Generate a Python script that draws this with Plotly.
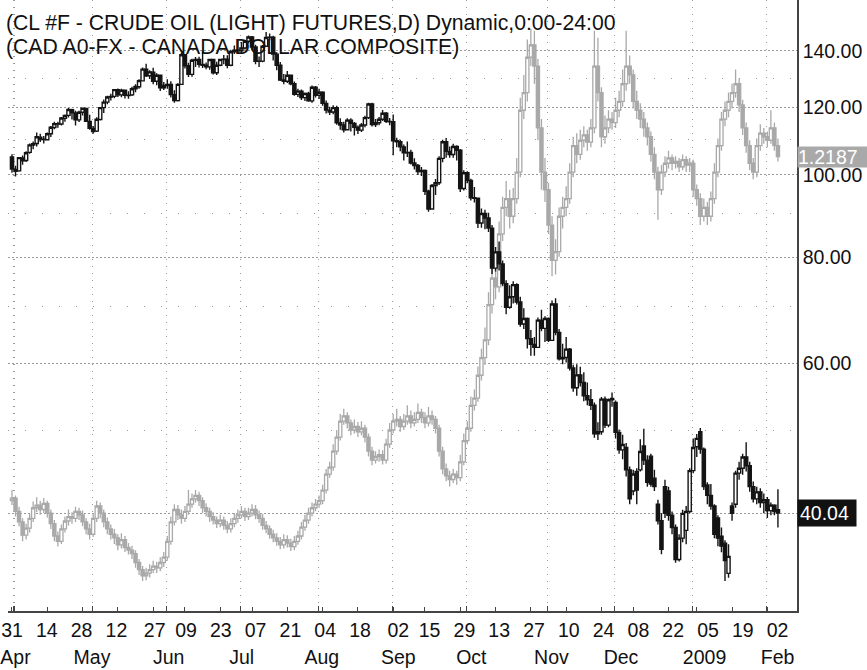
import math
import pandas as pd
import plotly.graph_objects as go

# ---------------- dates ----------------
holidays = ["2008-05-26", "2008-07-04", "2008-09-01", "2008-11-27", "2008-12-25", "2009-01-01"]
weekdays = [d.strftime("%Y-%m-%d") for d in pd.bdate_range("2008-03-31", "2009-02-05")]
dates = [d for d in weekdays if d not in holidays]   # trading days (one candle each)

# ---------------- crude oil (CL #F) ----------------
oil_open = [105.0,
 101.5,101.1,104.7,104.0,106.3,108.4,108.9,110.8,110.2,110.0,111.8,113.7,114.8,114.8,116.6,117.5,119.3,118.3,116.1,118.5,119.7,115.6,
 113.4,112.6,116.2,120.0,121.8,123.5,123.7,126.0,124.2,125.8,124.0,124.2,126.3,127.0,129.0,133.2,130.8,132.1,128.9,131.0,126.6,
 127.4,127.8,124.3,122.3,127.8,138.5,134.4,131.3,136.4,136.7,134.9,134.6,134.0,136.7,131.9,134.6,136.7,136.8,134.6,139.6,140.2,
 140.0,141.0,143.6,145.3,141.4,136.0,136.1,141.7,145.1,145.2,138.7,134.6,129.3,128.9,131.0,128.0,124.4,125.5,123.3,124.7,122.2,126.8,
 124.1,125.1,121.4,119.2,118.6,120.0,115.2,114.5,113.0,116.0,115.0,113.8,112.9,114.5,116.8,121.2,114.6,115.2,116.3,118.2,115.6,
 115.5,109.7,109.4,107.9,106.2,106.3,103.3,102.6,100.9,101.2,95.7,91.2,97.2,97.9,104.6,109.4,106.6,105.7,108.0,106.9,96.4,
 100.6,98.5,94.0,93.9,87.8,90.1,89.0,86.6,77.7,81.2,78.6,74.5,69.9,71.9,74.3,70.9,66.8,67.8,64.2,63.2,62.7,67.5,66.0,
 67.8,63.9,70.5,65.3,60.8,61.0,62.4,59.3,56.2,58.2,57.0,55.0,54.4,53.6,49.6,49.9,54.5,50.8,54.6,
 54.0,49.8,47.5,47.8,45.0,42.5,44.8,45.0,48.0,46.2,46.7,44.0,41.0,39.2,43.0,42.5,39.8,38.5,35.3,37.4,38.2,40.2,
 44.9,47.9,49.9,47.6,43.2,42.0,40.8,39.5,37.6,36.9,34.0,40.8,41.0,44.6,45.2,46.6,45.5,43.0,41.6,42.4,41.2,
 41.5,40.3,40.9,40.4]
oil_high = [105.8,
 102.5,105.0,105.4,106.6,108.9,109.5,112.2,111.8,111.1,112.2,114.2,115.5,115.5,117.0,117.8,119.9,119.6,119.0,119.0,120.0,119.8,117.7,
 114.2,116.9,120.2,122.7,123.9,124.6,126.2,126.4,126.3,126.0,125.4,127.0,127.8,129.6,133.8,135.1,132.8,133.7,131.7,131.2,128.6,
 129.6,128.9,125.8,128.2,139.1,138.8,135.5,137.0,137.6,137.7,139.9,135.6,137.0,136.8,135.9,137.0,138.4,138.3,140.4,142.0,143.7,
 143.3,144.0,145.9,145.7,142.3,137.8,142.2,147.3,146.7,145.8,139.0,135.8,131.4,132.5,131.3,128.8,126.3,126.0,125.0,125.3,127.4,127.2,
 126.3,125.4,122.3,120.3,120.8,120.6,116.6,115.5,116.6,116.6,115.4,114.3,115.1,117.4,121.6,121.6,116.4,117.0,119.2,118.6,116.7,
 117.8,110.6,110.0,108.6,109.5,107.1,104.6,103.0,102.2,101.5,96.1,97.6,98.9,105.2,110.0,110.5,108.0,108.8,108.4,107.3,101.3,
 101.0,99.0,96.8,94.0,91.3,91.0,90.3,87.3,82.3,83.5,79.3,75.2,74.2,75.0,74.6,71.9,69.7,68.0,65.7,64.5,68.0,69.4,68.2,
 68.0,71.2,71.6,65.9,63.3,64.5,62.6,59.8,59.9,59.5,58.6,57.0,56.0,54.0,51.2,54.8,54.9,54.6,55.5,
 54.3,50.2,49.5,48.4,45.4,45.0,45.2,48.9,50.3,46.8,47.0,45.0,41.5,40.0,43.8,43.0,40.2,38.8,37.8,40.4,40.8,45.2,
 49.0,49.6,50.4,47.8,43.5,43.3,41.0,39.8,38.5,37.2,36.8,41.2,44.9,46.0,47.0,48.5,46.0,43.6,43.0,42.8,42.2,
 41.8,41.2,41.0,42.7]
oil_low = [100.6,
 99.6,100.9,102.8,103.6,105.9,107.2,108.0,109.3,108.9,109.8,110.8,113.2,113.6,114.3,115.5,116.8,116.2,114.3,115.4,117.5,115.5,113.0,
 111.8,112.3,115.9,118.3,121.1,122.3,123.1,123.5,123.4,123.0,122.9,123.8,125.1,126.3,128.8,130.4,129.7,127.8,127.5,125.5,125.9,
 126.3,123.3,121.6,122.0,127.6,133.4,130.4,130.5,134.0,133.8,133.6,133.1,133.0,131.3,131.1,134.2,135.0,133.5,134.2,138.8,139.4,
 139.1,140.5,142.8,140.5,135.0,134.0,135.7,141.5,144.0,136.3,132.8,129.0,127.8,128.3,127.5,123.9,123.5,122.5,122.2,121.9,121.6,123.3,
 122.8,120.6,118.1,117.6,117.9,114.6,113.0,112.2,112.9,112.5,111.3,111.7,112.3,113.8,116.4,114.0,113.9,114.4,115.7,115.1,114.4,
 105.5,107.8,106.6,104.0,105.0,102.9,101.5,100.0,99.7,94.7,90.5,91.0,94.7,97.3,103.5,104.8,104.8,104.8,104.0,95.5,95.9,
 97.8,93.3,92.8,86.6,86.7,86.3,85.7,76.5,77.0,77.2,74.0,68.6,69.6,70.6,70.4,66.3,65.9,62.5,61.3,61.3,62.6,65.5,63.6,
 63.6,63.8,64.8,60.5,59.9,60.2,58.9,55.6,55.0,56.4,54.2,53.6,52.9,49.1,48.8,49.5,50.4,50.5,53.4,
 49.0,47.0,46.3,44.2,41.0,42.0,41.0,44.8,45.6,43.0,43.0,42.5,38.8,35.8,39.5,39.2,37.8,35.0,35.1,37.0,36.8,40.0,
 44.6,46.6,47.0,42.6,41.0,40.4,37.4,36.6,36.0,33.3,33.6,39.2,40.6,43.8,44.4,44.8,42.4,41.2,41.0,40.6,40.0,
 39.5,39.8,39.8,38.5]
oil_close = [101.6,
 101.0,104.8,103.9,106.2,108.5,108.8,110.9,110.1,110.1,111.8,113.8,114.9,114.9,116.7,117.5,119.4,118.3,116.1,118.5,119.8,115.6,113.5,
 112.5,116.3,120.0,121.8,123.5,123.7,126.0,124.2,125.8,124.1,124.1,126.3,127.1,129.1,133.2,130.8,132.2,128.9,131.0,126.6,127.4,
 127.8,124.3,122.3,127.8,138.5,134.4,131.3,136.4,136.7,134.9,134.6,134.0,136.7,131.9,134.6,136.7,136.8,134.6,139.6,140.2,140.0,
 141.0,143.6,145.3,141.4,136.0,136.1,141.7,145.1,145.2,138.7,134.6,129.3,128.9,131.0,128.0,124.4,125.5,123.3,124.7,122.2,126.8,124.1,
 125.1,121.4,119.2,118.6,120.0,115.2,114.5,113.0,116.0,115.0,113.8,112.9,114.5,116.8,121.2,114.6,115.2,116.3,118.2,115.6,115.5,
 109.7,109.4,107.9,106.2,106.3,103.3,102.6,100.9,101.2,95.7,91.2,97.2,97.9,104.6,109.4,106.6,105.7,108.0,106.9,96.4,100.6,
 98.5,94.0,93.9,87.8,90.1,89.0,86.6,77.7,81.2,78.6,74.5,69.9,71.9,74.3,70.9,66.8,67.8,64.2,63.2,62.7,67.5,66.0,67.8,
 63.9,70.5,65.3,60.8,61.0,62.4,59.3,56.2,58.2,57.0,55.0,54.4,53.6,49.6,49.9,54.5,50.8,54.4,54.4,
 49.8,47.5,48.2,45.0,41.6,44.5,42.6,47.3,46.2,43.5,43.3,43.0,39.2,36.3,40.0,39.8,38.5,35.3,37.4,40.0,40.2,44.9,
 47.8,49.0,47.6,43.0,42.0,40.8,37.8,37.4,36.6,35.2,35.6,40.0,44.6,45.2,46.6,45.5,43.0,41.6,42.4,41.2,41.5,
 40.3,40.9,40.2,40.04]

# ---------------- Canadian dollar (CAD A0-FX) ----------------
cad_open = [1.0240,
 1.0255,1.0180,1.0120,1.0045,1.0085,1.0140,1.0200,1.0215,1.0190,1.0225,1.0170,1.0110,1.0040,1.0010,1.0080,1.0125,1.0150,1.0140,1.0180,1.0160,1.0120,1.0080,
 1.0050,1.0140,1.0210,1.0170,1.0120,1.0080,1.0050,1.0030,0.9990,1.0020,0.9975,0.9960,0.9940,0.9890,0.9850,0.9815,0.9830,0.9850,0.9870,0.9860,0.9890,
 0.9920,1.0010,1.0120,1.0190,1.0160,1.0140,1.0180,1.0220,1.0250,1.0270,1.0240,1.0200,1.0180,1.0150,1.0130,1.0110,1.0130,1.0100,1.0080,1.0110,1.0140,
 1.0160,1.0180,1.0150,1.0170,1.0190,1.0160,1.0140,1.0100,1.0080,1.0050,1.0030,1.0010,0.9990,1.0020,1.0000,0.9980,1.0010,1.0040,1.0090,1.0130,1.0170,1.0200,
 1.0220,1.0240,1.0300,1.0390,1.0430,1.0520,1.0600,1.0690,1.0720,1.0680,1.0640,1.0660,1.0630,1.0650,1.0600,1.0520,1.0470,1.0490,1.0500,1.0470,1.0560,
 1.0640,1.0690,1.0700,1.0660,1.0690,1.0720,1.0680,1.0700,1.0740,1.0710,1.0680,1.0720,1.0700,1.0650,1.0520,1.0420,1.0380,1.0360,1.0390,1.0370,1.0460,
 1.0580,1.0650,1.0780,1.0820,1.0950,1.1050,1.1150,1.1350,1.1500,1.1450,1.1750,1.1900,1.1950,1.1850,1.1950,1.2100,1.2450,1.2550,1.2750,1.2820,1.2700,1.2350,1.2100,
 1.2000,1.1800,1.1600,1.1650,1.1850,1.1900,1.1950,1.2100,1.2250,1.2200,1.2280,1.2310,1.2270,1.2350,1.2700,1.2550,1.2300,1.2350,1.2400,
 1.2380,1.2450,1.2500,1.2600,1.2700,1.2650,1.2500,1.2450,1.2400,1.2350,1.2300,1.2200,1.2100,1.2000,1.2100,1.2150,1.2180,1.2150,1.2160,1.2130,1.2170,1.2140,
 1.2150,1.2000,1.1950,1.1850,1.1900,1.1850,1.1950,1.2100,1.2250,1.2400,1.2450,1.2500,1.2550,1.2600,1.2480,1.2350,1.2250,1.2150,1.2100,1.2250,1.2320,
 1.2300,1.2280,1.2350,1.2250]
cad_high = [1.0300,
 1.0270,1.0205,1.0140,1.0110,1.0165,1.0235,1.0260,1.0240,1.0255,1.0240,1.0190,1.0130,1.0065,1.0105,1.0150,1.0190,1.0175,1.0205,1.0200,1.0185,1.0140,1.0110,
 1.0170,1.0240,1.0230,1.0190,1.0145,1.0105,1.0080,1.0050,1.0055,1.0040,1.0000,0.9985,0.9960,0.9910,0.9870,0.9860,0.9880,0.9900,0.9895,0.9920,0.9950,
 1.0040,1.0150,1.0220,1.0215,1.0190,1.0210,1.0300,1.0280,1.0300,1.0290,1.0260,1.0225,1.0200,1.0175,1.0150,1.0160,1.0150,1.0125,1.0140,1.0170,1.0190,
 1.0210,1.0200,1.0200,1.0220,1.0215,1.0185,1.0165,1.0125,1.0100,1.0075,1.0055,1.0035,1.0050,1.0045,1.0025,1.0040,1.0070,1.0120,1.0160,1.0200,1.0230,1.0250,
 1.0270,1.0330,1.0420,1.0460,1.0560,1.0640,1.0730,1.0760,1.0740,1.0700,1.0700,1.0685,1.0690,1.0670,1.0620,1.0545,1.0520,1.0530,1.0525,1.0590,1.0680,
 1.0730,1.0760,1.0720,1.0730,1.0780,1.0750,1.0740,1.0790,1.0760,1.0740,1.0770,1.0750,1.0720,1.0670,1.0545,1.0450,1.0410,1.0420,1.0410,1.0500,1.0620,
 1.0690,1.0830,1.0870,1.1000,1.1100,1.1220,1.1420,1.1600,1.1560,1.1820,1.1960,1.2050,1.2000,1.2010,1.2180,1.2520,1.2650,1.2850,1.2910,1.2900,1.2740,1.2400,1.2180,
 1.2040,1.1850,1.1720,1.1900,1.1960,1.2020,1.2150,1.2300,1.2320,1.2340,1.2360,1.2340,1.2400,1.2900,1.2860,1.2580,1.2420,1.2450,1.2440,
 1.2520,1.2560,1.2680,1.2900,1.2760,1.2680,1.2560,1.2490,1.2440,1.2380,1.2330,1.2240,1.2130,1.2140,1.2190,1.2220,1.2200,1.2190,1.2180,1.2200,1.2190,1.2180,
 1.2170,1.2030,1.1980,1.1950,1.1930,1.1990,1.2150,1.2290,1.2440,1.2500,1.2550,1.2600,1.2680,1.2630,1.2510,1.2380,1.2280,1.2180,1.2290,1.2370,1.2350,
 1.2330,1.2450,1.2380,1.2290]
cad_low = [1.0215,
 1.0150,1.0095,1.0010,1.0020,1.0060,1.0120,1.0175,1.0160,1.0170,1.0145,1.0080,1.0010,0.9980,0.9995,1.0060,1.0100,1.0110,1.0120,1.0130,1.0095,1.0050,1.0020,
 1.0035,1.0120,1.0140,1.0090,1.0050,1.0020,0.9995,0.9960,0.9970,0.9950,0.9935,0.9910,0.9860,0.9820,0.9785,0.9790,0.9805,0.9830,0.9830,0.9840,0.9865,
 0.9900,0.9990,1.0100,1.0130,1.0110,1.0120,1.0160,1.0200,1.0230,1.0210,1.0170,1.0150,1.0120,1.0105,1.0085,1.0090,1.0075,1.0055,1.0060,1.0090,1.0115,
 1.0140,1.0125,1.0130,1.0150,1.0135,1.0115,1.0075,1.0055,1.0025,1.0005,0.9985,0.9965,0.9970,0.9975,0.9955,0.9960,0.9990,1.0020,1.0070,1.0110,1.0150,1.0180,
 1.0200,1.0220,1.0280,1.0370,1.0410,1.0500,1.0580,1.0670,1.0650,1.0610,1.0620,1.0600,1.0610,1.0570,1.0490,1.0440,1.0450,1.0460,1.0445,1.0450,1.0540,
 1.0620,1.0660,1.0630,1.0640,1.0670,1.0650,1.0660,1.0680,1.0680,1.0650,1.0660,1.0670,1.0620,1.0490,1.0390,1.0350,1.0320,1.0340,1.0330,1.0350,1.0440,
 1.0560,1.0630,1.0750,1.0800,1.0920,1.1010,1.1120,1.1300,1.1380,1.1420,1.1710,1.1850,1.1780,1.1810,1.1920,1.2070,1.2400,1.2500,1.2700,1.2600,1.2280,1.2000,1.1930,
 1.1750,1.1510,1.1520,1.1620,1.1780,1.1850,1.1920,1.2070,1.2150,1.2170,1.2240,1.2220,1.2240,1.2320,1.2500,1.2240,1.2260,1.2320,1.2340,
 1.2350,1.2410,1.2470,1.2560,1.2600,1.2460,1.2400,1.2350,1.2300,1.2250,1.2160,1.2060,1.1830,1.1970,1.2070,1.2120,1.2110,1.2120,1.2100,1.2110,1.2100,1.2100,
 1.1960,1.1910,1.1800,1.1820,1.1800,1.1820,1.1920,1.2070,1.2220,1.2360,1.2410,1.2460,1.2520,1.2440,1.2310,1.2210,1.2110,1.2060,1.2070,1.2220,1.2260,
 1.2240,1.2260,1.2220,1.2160]
cad_close = [1.0255,
 1.0180,1.0120,1.0045,1.0085,1.0140,1.0200,1.0215,1.0190,1.0225,1.0170,1.0110,1.0040,1.0010,1.0080,1.0125,1.0150,1.0140,1.0180,1.0160,1.0120,1.0080,1.0050,
 1.0140,1.0210,1.0170,1.0120,1.0080,1.0050,1.0030,0.9990,1.0020,0.9975,0.9960,0.9940,0.9890,0.9850,0.9815,0.9830,0.9850,0.9870,0.9860,0.9890,0.9920,
 1.0010,1.0120,1.0190,1.0160,1.0140,1.0180,1.0220,1.0250,1.0270,1.0240,1.0200,1.0180,1.0150,1.0130,1.0110,1.0130,1.0100,1.0080,1.0110,1.0140,1.0160,
 1.0180,1.0150,1.0170,1.0190,1.0160,1.0140,1.0100,1.0080,1.0050,1.0030,1.0010,0.9990,1.0020,1.0000,0.9980,1.0010,1.0040,1.0090,1.0130,1.0170,1.0200,1.0220,
 1.0240,1.0300,1.0390,1.0430,1.0520,1.0600,1.0690,1.0720,1.0680,1.0640,1.0660,1.0630,1.0650,1.0600,1.0520,1.0470,1.0490,1.0500,1.0470,1.0560,1.0640,
 1.0690,1.0700,1.0660,1.0690,1.0720,1.0680,1.0700,1.0740,1.0710,1.0680,1.0720,1.0700,1.0650,1.0520,1.0420,1.0380,1.0360,1.0390,1.0370,1.0460,1.0580,
 1.0650,1.0780,1.0820,1.0950,1.1050,1.1150,1.1350,1.1500,1.1450,1.1750,1.1900,1.1950,1.1850,1.1950,1.2100,1.2450,1.2550,1.2750,1.2820,1.2700,1.2350,1.2100,1.2000,
 1.1800,1.1600,1.1650,1.1850,1.1900,1.1950,1.2100,1.2250,1.2200,1.2280,1.2310,1.2270,1.2350,1.2700,1.2550,1.2300,1.2350,1.2400,1.2380,
 1.2450,1.2500,1.2600,1.2700,1.2650,1.2500,1.2450,1.2400,1.2350,1.2300,1.2200,1.2100,1.2000,1.2100,1.2150,1.2180,1.2150,1.2160,1.2130,1.2170,1.2140,1.2150,
 1.2000,1.1950,1.1850,1.1900,1.1850,1.1950,1.2100,1.2250,1.2400,1.2450,1.2500,1.2550,1.2600,1.2480,1.2350,1.2250,1.2150,1.2100,1.2250,1.2320,1.2300,
 1.2280,1.2350,1.2250,1.2187]

for arr in (oil_open, oil_high, oil_low, oil_close, cad_open, cad_high, cad_low, cad_close):
    assert len(arr) == len(dates), (len(arr), len(dates))

# ---------------- axis labels ----------------
label_dates = ["2008-03-31", "2008-04-14", "2008-04-28", "2008-05-12", "2008-05-27", "2008-06-09",
               "2008-06-23", "2008-07-07", "2008-07-21", "2008-08-04", "2008-08-18", "2008-09-02",
               "2008-09-15", "2008-09-29", "2008-10-13", "2008-10-27", "2008-11-10", "2008-11-24",
               "2008-12-08", "2008-12-22", "2009-01-05", "2009-01-19", "2009-02-02"]
day_labels = ["31", "14", "28", "12", "27", "09", "23", "07", "21", "04", "18", "02",
              "15", "29", "13", "27", "10", "24", "08", "22", "05", "19", "02"]
month_labels = ["Apr", "May", "Jun", "Jul", "Aug", "Sep", "Oct", "Nov", "Dec", "2009", "Feb"]
price_ticks = [40, 60, 80, 100, 120, 140]
price_minor = [50, 70, 90, 110, 130]

pos = list(range(len(dates)))                      # candle slots (trading days)
bar_ticks = [dates.index(d) for d in label_dates]  # small tick marks on the bar axis
month_first = [i for i in range(1, len(dates)) if dates[i][5:7] != dates[i - 1][5:7]]
month_grid = [0.4] + [i - 0.3 for i in month_first]
# calendar (weekday) axis used for the text labels
day_lab_pos = [weekdays.index(d) for d in label_dates]
month_lab_pos = [weekdays.index(dates[i]) for i in [1] + month_first[1:]]
# the 40.00 label sits under the last-price tag in the original, so it is left blank
price_text = ["" if v == 40 else "%.2f" % v for v in price_ticks]

FONT = "Liberation Sans, Arial, Helvetica, sans-serif"
GRAY = "#a9a9a9"
BLACK = "#141414"
AX = "#444444"

fig = go.Figure()
fig.add_trace(go.Candlestick(
    x=pos, open=cad_open, high=cad_high, low=cad_low, close=cad_close,
    xaxis="x", yaxis="y", name="CAD",
    increasing=dict(line=dict(color=GRAY, width=1.3), fillcolor="white"),
    decreasing=dict(line=dict(color=GRAY, width=1.3), fillcolor=GRAY),
    whiskerwidth=0, showlegend=False, hoverinfo="skip"))
fig.add_trace(go.Candlestick(
    x=pos, open=oil_open, high=oil_high, low=oil_low, close=oil_close,
    xaxis="x", yaxis="y2", name="CL",
    increasing=dict(line=dict(color=BLACK, width=1.4), fillcolor="white"),
    decreasing=dict(line=dict(color=BLACK, width=1.4), fillcolor=BLACK),
    whiskerwidth=0, showlegend=False, hoverinfo="skip"))
# empty traces so that the two label axes get drawn
for xa in ("x2", "x3"):
    fig.add_trace(go.Scatter(x=[None], y=[None], xaxis=xa, yaxis="y", mode="markers",
                             showlegend=False, hoverinfo="skip"))

PLOT_H = 611
fig.update_layout(
    width=867, height=670,
    margin=dict(l=8, r=70, t=0, b=670 - PLOT_H),
    paper_bgcolor="white", plot_bgcolor="white",
    font=dict(family=FONT, color="#111"),
    boxgap=0.1, boxgroupgap=0,
    xaxis=dict(
        range=[-1.13, 222.4], rangeslider=dict(visible=False),
        showline=True, linecolor=AX, linewidth=1.5,
        tickmode="array", tickvals=bar_ticks, showticklabels=False,
        ticks="inside", ticklen=4, tickcolor=AX,
        showgrid=False, zeroline=False,
        minor=dict(tickmode="array", tickvals=month_grid, showgrid=True,
                   gridcolor="#9a9a9a", gridwidth=1, griddash="1px,6px",
                   ticks="inside", ticklen=5, tickcolor=AX),
    ),
    xaxis2=dict(
        overlaying="x", anchor="y", side="bottom", range=[-1.149, 225.57],
        tickmode="array", tickvals=day_lab_pos, ticktext=day_labels,
        ticks="", showline=False, showgrid=False, zeroline=False,
        ticklabelstandoff=5,
        tickfont=dict(size=19.5, family=FONT, color="#111"),
    ),
    xaxis3=dict(
        overlaying="x", anchor="y", side="bottom", range=[-1.149, 225.57],
        tickmode="array", tickvals=month_lab_pos, ticktext=month_labels,
        ticks="", showline=False, showgrid=False, zeroline=False,
        ticklabelstandoff=32,
        tickfont=dict(size=19.5, family=FONT, color="#111"),
    ),
    yaxis=dict(range=[0.96156, 1.30739], visible=False, showgrid=False, zeroline=False),
    yaxis2=dict(
        type="log", range=[1.48722, 2.20575], overlaying="y", side="right", anchor="x",
        tickmode="array", tickvals=price_ticks, ticktext=price_text,
        showline=True, linecolor=AX, linewidth=1.5, ticks="",
        tickfont=dict(size=19.5, family=FONT, color="#111"),
        showgrid=True, gridcolor="#9a9a9a", gridwidth=1, griddash="2px,2px", zeroline=False,
        minor=dict(tickmode="array", tickvals=price_minor, showgrid=True,
                   gridcolor="#9a9a9a", gridwidth=1, griddash="1px,16px", ticks=""),
    ),
    annotations=[
        dict(text="(CL #F - CRUDE OIL (LIGHT) FUTURES,D) Dynamic,0:00-24:00",
             xref="paper", yref="paper", x=0, xshift=-4, y=1 - 22.5 / PLOT_H,
             xanchor="left", yanchor="middle",
             showarrow=False, font=dict(size=21.2, family=FONT, color="#111")),
        dict(text="(CAD A0-FX - CANADA DOLLAR COMPOSITE)",
             xref="paper", yref="paper", x=0, xshift=-4, y=1 - 47.5 / PLOT_H,
             xanchor="left", yanchor="middle",
             showarrow=False, font=dict(size=21.2, family=FONT, color="#111")),
        dict(text="%.2f" % oil_close[-1], xref="paper", yref="y2", x=1, y=math.log10(oil_close[-1]),
             xanchor="left", yanchor="middle", showarrow=False, bgcolor="#111",
             borderpad=2, width=54, align="left",
             font=dict(size=19.5, family=FONT, color="white")),
        dict(text="%.4f" % cad_close[-1], xref="paper", yref="y", x=1, y=cad_close[-1],
             xanchor="left", yanchor="middle", showarrow=False, bgcolor=GRAY, borderpad=0,
             width=70, height=20, align="left",
             font=dict(size=19.5, family=FONT, color="white")),
    ],
)

fig.write_html("out.html", config={"displayModeBar": False},
               post_script="document.body.style.margin='0px';document.body.style.overflow='hidden';")
